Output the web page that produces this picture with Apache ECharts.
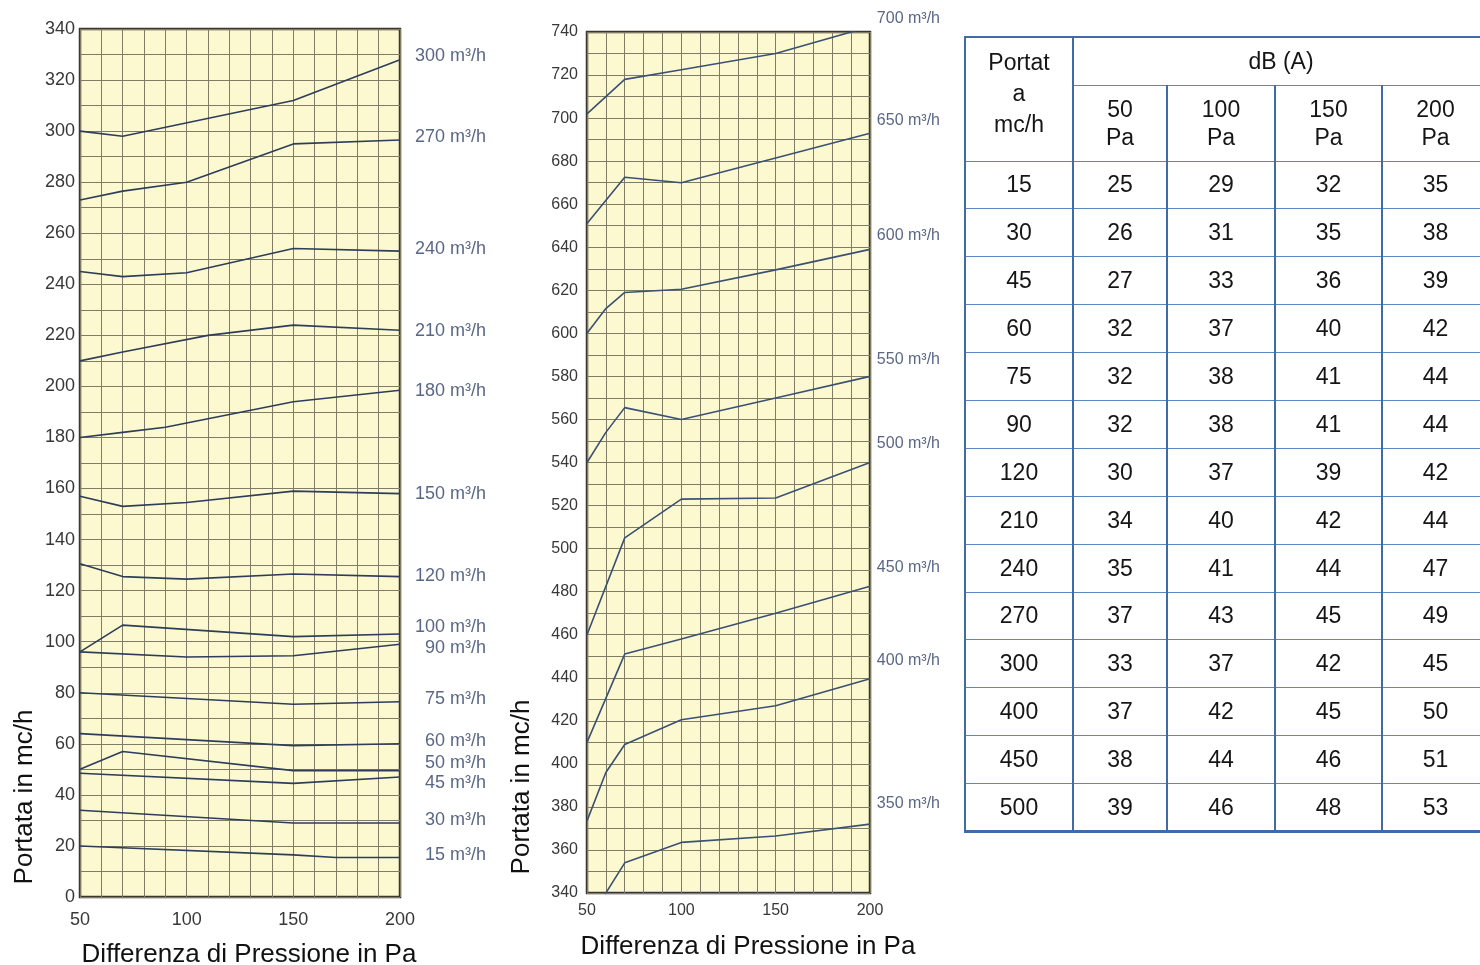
<!DOCTYPE html>
<html>
<head>
<meta charset="utf-8">
<script src="https://cdn.jsdelivr.net/npm/echarts@6/dist/echarts.min.js"></script>
<style>
html,body{margin:0;padding:0;width:1480px;height:965px;overflow:hidden;background:#fff;}
#chart{position:absolute;left:0;top:0;width:1480px;height:965px;}
#tbl{position:absolute;left:964px;top:36px;border-collapse:collapse;font-family:"Liberation Sans",Arial,sans-serif;font-size:23px;color:#151515;table-layout:fixed;}
#tbl td{text-align:center;vertical-align:middle;padding:0;border-left:2.5px solid #3f6ca9;border-right:2.5px solid #3f6ca9;border-top:1.5px solid #5c86bf;border-bottom:1.5px solid #5c86bf;}
#tbl tr.h1 td{border-top:2.5px solid #3f6ca9;}
#tbl tr.last td{border-bottom:3px solid #3f6ca9;}
</style>
</head>
<body>
<div id="chart"></div>
<table id="tbl"></table>
<script>
// ---------- data: left chart (Portata in mc/h vs Differenza di Pressione in Pa) ----------
const leftFlowNames = ['300','270','240','210','180','150','120','100','90','75','60','50','45','30','15'];
const q300 = [[50,300],[70,298],[150,312],[200,328]];
const q270 = [[50,273],[70,276.5],[100,280],[150,295],[200,296.5]];
const q240 = [[50,245],[70,243],[100,244.5],[150,254],[200,253]];
const q210 = [[50,210],[70,213.5],[110,220],[150,224],[200,222]];
const q180 = [[50,180],[70,182],[90,184],[150,194],[200,198.5]];
const q150 = [[50,157],[70,153],[100,154.5],[150,159],[200,158]];
const q120 = [[50,130.5],[70,125.5],[100,124.5],[150,126.5],[200,125.5]];
const q100 = [[50,96],[70,106.5],[150,102],[200,103]];
const q90  = [[50,96],[100,94],[150,94.5],[200,99]];
const q75  = [[50,80],[150,75.5],[200,76.5]];
const q60  = [[50,64],[150,59.3],[200,60]];
const q50  = [[50,50],[70,57],[150,49.5],[200,49.5]];
const q45  = [[50,48.5],[150,44.5],[200,47]];
const q30  = [[50,34],[150,29],[200,29]];
const q15  = [[50,20],[150,16.5],[170,15.5],[200,15.5]];
const leftLabelY = [329.4,297.7,253.8,221.7,198.2,157.9,125.7,105.8,97.7,77.6,61.1,52.5,44.7,30.2,16.6];

// ---------- data: right chart ----------
const rightFlowNames = ['700','650','600','550','500','450','400','350'];
const q700 = [[50,702],[70,718],[100,722.5],[150,730],[200,742.5]];
const q650 = [[50,651],[70,672.5],[100,670],[200,693]];
const q600 = [[50,600],[60,611.5],[70,619],[100,620.5],[150,629.5],[200,639]];
const q550 = [[50,540],[60,554],[70,565.5],[100,560],[150,570],[200,580]];
const q500 = [[50,460],[70,505],[100,523],[150,523.5],[200,540]];
const q450 = [[50,410],[70,451],[100,458],[150,470],[200,482.5]];
const q400 = [[50,373.5],[60,396],[70,409],[100,420.5],[150,427],[200,439.5]];
const q350 = [[50,326],[70,354],[100,363.5],[150,366.5],[200,372]];
const rightLabelY = [746,698.7,645.2,587.6,548.6,491,448.1,381.4];

// ---------- data: table dB(A) ----------
const tablePortata = [15,30,45,60,75,90,120,210,240,270,300,400,450,500];
const db50  = [25,26,27,32,32,32,30,34,35,37,33,37,38,39];
const db100 = [29,31,33,37,38,38,37,40,41,43,37,42,44,46];
const db150 = [32,35,36,40,41,41,39,42,44,45,42,45,46,48];
const db200 = [35,38,39,42,44,44,42,44,47,49,45,50,51,53];
const pressureCols = ['50','100','150','200'];

const leftLines = [q300,q270,q240,q210,q180,q150,q120,q100,q90,q75,q60,q50,q45,q30,q15];
const rightLines = [q700,q650,q600,q550,q500,q450,q400,q350];

const SANS = '"Liberation Sans",Arial,sans-serif';
const gridLine = {color:'#7f7c66', width:1};

function xAx(idx, fs, margin){
  return {type:'value', gridIndex:idx, min:50, max:200, interval:50,
    axisLine:{show:false}, axisTick:{show:false},
    axisLabel:{color:'#383838', fontFamily:SANS, fontSize:fs, margin:margin},
    splitLine:{show:true, lineStyle:gridLine},
    minorTick:{show:false, splitNumber:5},
    minorSplitLine:{show:true, lineStyle:gridLine}};
}
function yAx(idx, min, max, fs, margin){
  return {type:'value', gridIndex:idx, min:min, max:max, interval:20,
    axisLine:{show:false}, axisTick:{show:false},
    axisLabel:{color:'#383838', fontFamily:SANS, fontSize:fs, margin:margin, showMaxLabel:true, showMinLabel:true},
    splitLine:{show:true, lineStyle:gridLine},
    minorTick:{show:false, splitNumber:2},
    minorSplitLine:{show:true, lineStyle:gridLine}};
}

const series = [];
leftLines.forEach((d,i)=>{
  series.push({type:'line', xAxisIndex:0, yAxisIndex:0, data:d, symbol:'none', silent:true,
    lineStyle:{color:'#2e3d5a', width:1.6}, z:3, name:leftFlowNames[i]});
});
rightLines.forEach((d,i)=>{
  series.push({type:'line', xAxisIndex:1, yAxisIndex:1, data:d, symbol:'none', silent:true,
    lineStyle:{color:'#3a5173', width:1.6}, z:3, name:rightFlowNames[i]});
});
series.push({type:'scatter', xAxisIndex:0, yAxisIndex:0, clip:false, symbolSize:1, silent:true,
  itemStyle:{color:'rgba(0,0,0,0)'},
  data:leftFlowNames.map((n,i)=>[200, leftLabelY[i], n]),
  label:{show:true, position:'inside', align:'right', verticalAlign:'middle', offset:[86,0],
    formatter:p=>p.value[2]+' m³/h', color:'#2f4066', fontFamily:SANS, fontSize:18}});
series.push({type:'scatter', xAxisIndex:1, yAxisIndex:1, clip:false, symbolSize:1, silent:true,
  itemStyle:{color:'rgba(0,0,0,0)'},
  data:rightFlowNames.map((n,i)=>[200, rightLabelY[i], n]),
  label:{show:true, position:'inside', align:'right', verticalAlign:'middle', offset:[70,0],
    formatter:p=>p.value[2]+' m³/h', color:'#2f4066', fontFamily:SANS, fontSize:16}});

const chart = echarts.init(document.getElementById('chart'), null, {renderer:'canvas'});
chart.setOption({
  animation:false,
  backgroundColor:'#ffffff',
  grid:[
    {left:80, top:29, width:320, height:868, show:true, backgroundColor:'#fcf8cf', borderColor:'#3a3631', borderWidth:2.5},
    {left:587, top:32, width:283, height:861, show:true, backgroundColor:'#fcf8cf', borderColor:'#3a3631', borderWidth:2.5}
  ],
  xAxis:[xAx(0,18,14), xAx(1,16,10)],
  yAxis:[yAx(0,0,340,18,5), yAx(1,340,740,16,9)],
  series:series,
  graphic:[
    {type:'text', x:25, y:797, rotation:Math.PI/2, style:{text:'Portata in mc/h', font:'26px '+SANS, fill:'#111', align:'center', verticalAlign:'middle'}},
    {type:'text', x:522, y:787, rotation:Math.PI/2, style:{text:'Portata in mc/h', font:'26px '+SANS, fill:'#111', align:'center', verticalAlign:'middle'}},
    {type:'text', x:249, y:955, style:{text:'Differenza di Pressione in Pa', font:'26px '+SANS, fill:'#111', align:'center', verticalAlign:'middle'}},
    {type:'text', x:748, y:947, style:{text:'Differenza di Pressione in Pa', font:'26px '+SANS, fill:'#111', align:'center', verticalAlign:'middle'}}
  ]
});

// ---------- table ----------
const tbl = document.getElementById('tbl');
const colW = [108,94,108,107,107];
tbl.style.width = colW.reduce((a,b)=>a+b,0) + 'px';
let html = '<colgroup>' + colW.map(w=>'<col style="width:'+w+'px">').join('') + '</colgroup>';
html += '<tr class="h1" style="height:48px"><td rowspan="2" style="line-height:31px;padding-bottom:12px">Portat<br>a<br>mc/h</td><td colspan="4">dB (A)</td></tr>';
html += '<tr style="height:76px">' + pressureCols.map(p=>'<td style="line-height:28px">'+p+'<br>Pa</td>').join('') + '</tr>';
tablePortata.forEach((q,i)=>{
  html += '<tr style="height:47.9px"'+(i===tablePortata.length-1?' class="last"':'')+'><td>'+q+'</td><td>'+db50[i]+'</td><td>'+db100[i]+'</td><td>'+db150[i]+'</td><td>'+db200[i]+'</td></tr>';
});
tbl.innerHTML = html;
</script>
</body>
</html>
